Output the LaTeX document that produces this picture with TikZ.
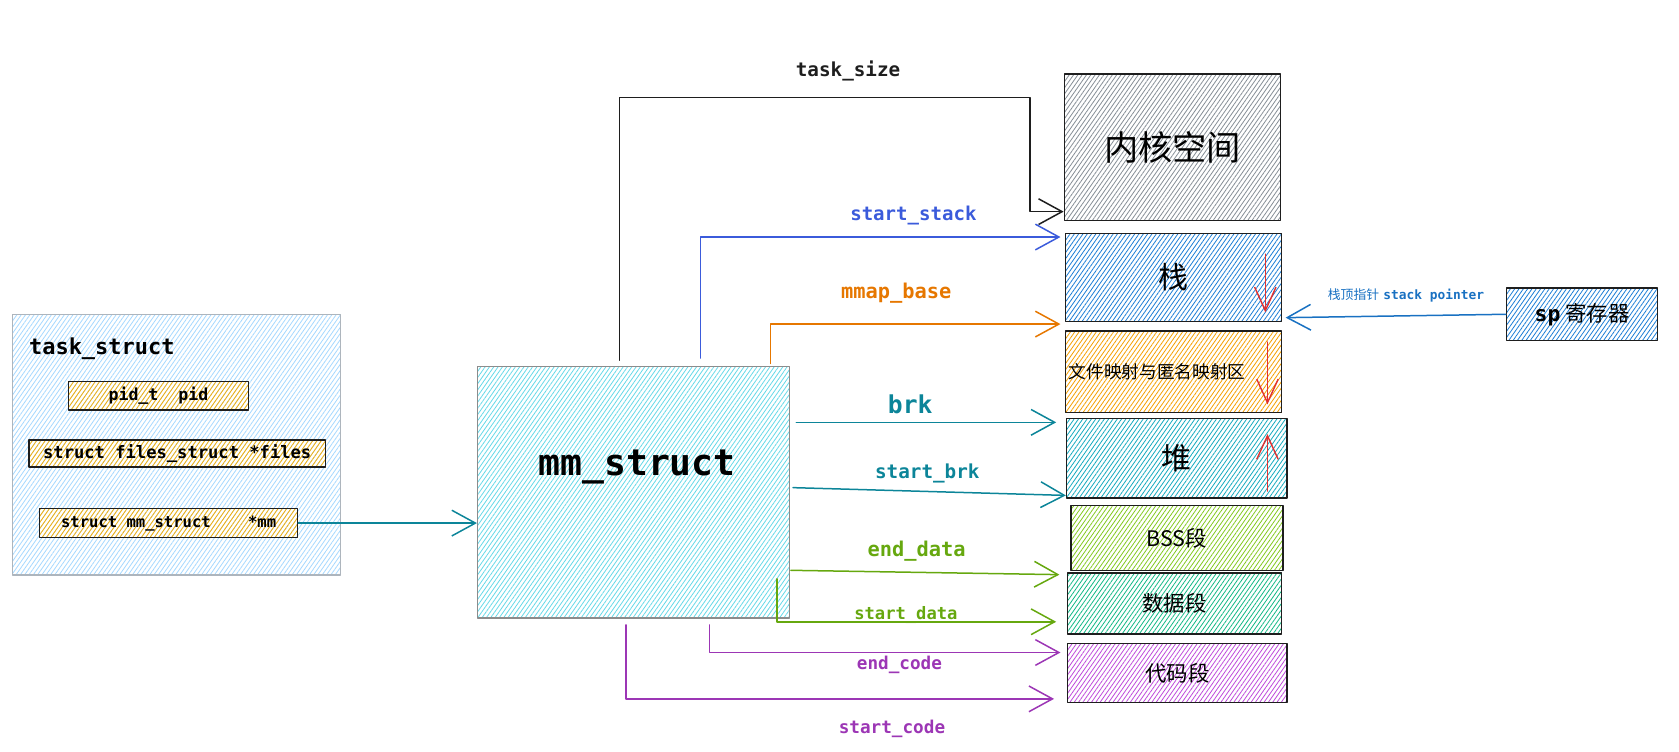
\documentclass[tikz,border=0pt]{standalone}
\usepackage{fontspec}
\setmonofont{DejaVu Sans Mono}
\newfontfamily\cjk{Noto Sans CJK SC}
\usetikzlibrary{arrows.meta,patterns.meta,calc}
\definecolor{cBlack}{HTML}{1E1E1E}
\definecolor{cBlue}{HTML}{3B5BDB}
\definecolor{cOrange}{HTML}{E67700}
\definecolor{cTeal}{HTML}{0C8599}
\definecolor{cGreen}{HTML}{66A80F}
\definecolor{cPurple}{HTML}{9C36B5}
\definecolor{cSp}{HTML}{1971C2}
\definecolor{cRed}{HTML}{E03131}
\definecolor{hTask}{HTML}{A5D8FF}
\definecolor{hYel}{HTML}{FAB005}
\definecolor{hMm}{HTML}{66D9E8}
\definecolor{hKern}{HTML}{868E96}
\definecolor{hStack}{HTML}{1C7ED6}
\definecolor{hMmap}{HTML}{F59F00}
\definecolor{hHeap}{HTML}{15AABF}
\definecolor{hBss}{HTML}{82C91E}
\definecolor{hData}{HTML}{12B886}
\definecolor{hCode}{HTML}{BE4BDB}
\definecolor{bGray}{HTML}{ADB5BD}
\begin{document}
\begin{tikzpicture}[x=1pt,y=-1pt,line join=round,line cap=round,
  hatch/.style={pattern={Lines[angle=55,distance=3.3pt,line width=0.75pt]},pattern color=#1},
  membox/.style={draw=cBlack,line width=1.3pt,hatch=#1,inner sep=0pt,font=\cjk\fontsize{20}{24}\selectfont},
  field/.style={draw=cBlack,line width=1.2pt,hatch=hYel,inner sep=0pt,font=\ttfamily\bfseries\fontsize{15.5}{18}\selectfont},
  conn/.style={line width=1.4pt,draw=#1,-{Straight Barb[length=22pt,width=24pt]}},
  redarr/.style={line width=1.3pt,draw=cRed,-{Straight Barb[length=22pt,width=20pt]}},
  lbl/.style={font=\ttfamily\bfseries\fontsize{18}{20}\selectfont,text=#1,inner sep=0pt},
]
\useasboundingbox (0,0) rectangle (1568,702);

% task_struct
\node[draw=bGray,line width=1.2pt,hatch=hTask,minimum width=306pt,minimum height=243pt,inner sep=0pt] (task) at (165,415.5) {};
\node[font=\ttfamily\bfseries\fontsize{20.5}{24}\selectfont,anchor=west,inner sep=0pt] (tasktitle) at (27,326) {task\_struct};
\node[field,minimum width=168pt,minimum height=27pt] (pid) at (148,369.5) {pid\_t\ \ pid};
\node[field,minimum width=277pt,minimum height=25pt,font=\ttfamily\bfseries\fontsize{16}{18}\selectfont] (files) at (165.5,423.5) {struct files\_struct *files};
\node[field,minimum width=241pt,minimum height=27pt,font=\ttfamily\bfseries\fontsize{14.5}{18}\selectfont] (mmf) at (157.5,488.5) {struct mm\_struct\ \ \ \ *mm};

% mm_struct
\node[draw=black!45,line width=1.2pt,hatch=hMm,minimum width=291pt,minimum height=235pt,inner sep=0pt] (mm) at (591.5,459.5) {};
\node[font=\ttfamily\bfseries\fontsize{34}{40}\selectfont,inner sep=0pt] (mmtitle) at (595,436) {mm\_struct};

% memory layout
\node[membox=hKern,minimum width=202pt,minimum height=137pt,font=\cjk\fontsize{32}{36}\selectfont] (kern) at (1095,137.5) {内核空间};
\node[membox=hStack,minimum width=202pt,minimum height=82pt,font=\cjk\fontsize{28}{32}\selectfont] (stack) at (1096,259) {栈};
\node[membox=hMmap,minimum width=202pt,minimum height=76pt,font=\cjk\fontsize{16.5}{20}\selectfont,text width=196pt,align=left] (mmap) at (1096,347) {文件映射与匿名映射区};
\node[membox=hHeap,minimum width=206pt,minimum height=74pt,font=\cjk\fontsize{28}{32}\selectfont] (heap) at (1099,428) {堆};
\node[membox=hBss,minimum width=198pt,minimum height=61pt] (bss) at (1099,502.5) {BSS段};
\node[membox=hData,minimum width=200pt,minimum height=57pt] (data) at (1097,563.5) {数据段};
\node[membox=hCode,minimum width=205pt,minimum height=55pt] (code) at (1099.5,628.5) {代码段};

% sp register
\node[membox=hStack,minimum width=141pt,minimum height=49pt] (sp) at (1477.5,293.5) {{\ttfamily\bfseries sp}\ 寄存器};

% growth arrows
\draw[redarr] ($(stack.north east)+(-16,20)$) -- ($(stack.south east)+(-16,-9)$);
\draw[redarr] ($(mmap.north east)+(-14,11)$) -- ($(mmap.south east)+(-14,-8)$);
\draw[redarr] ($(heap.south east)+(-19,-7)$) -- ($(heap.north east)+(-19,15)$);

% task_struct -> mm_struct
\draw[conn=cTeal] (mmf.east) -- (mm.west |- mmf.east);

% connectors from mm_struct
\coordinate (tsA) at ($(mm.north west)+(133,-5)$);
\coordinate (tsB) at (962,91);
\coordinate (tsT) at ($(kern.south west)+(0,-9)$);
\draw[conn=cBlack] (tsA) |- (tsB) |- (tsT);
\node[lbl=cBlack] (ltask) at (792,66) {task\_size};

\coordinate (ssA) at ($(mm.north west)+(209,-7)$);
\coordinate (ssT) at ($(stack.north west)+(-4,4)$);
\draw[conn=cBlue] (ssA) |- (ssT);
\node[lbl=cBlue,font=\ttfamily\bfseries\fontsize{17.8}{20}\selectfont] (lstack) at (853,201) {start\_stack};

\coordinate (mbA) at ($(mm.north west)+(274,-2)$);
\coordinate (mbT) at ($(stack.south west)+(-4,2)$);
\draw[conn=cOrange] (mbA) |- (mbT);
\node[lbl=cOrange,font=\ttfamily\bfseries\fontsize{19}{22}\selectfont] (lmmap) at (837,274) {mmap\_base};

\coordinate (brA) at ($(mm.north east)+(6,53)$);
\coordinate (brT) at ($(heap.north west)+(-9,4)$);
\draw[conn=cTeal] (brA) -- (brA -| brT);
\node[lbl=cTeal,font=\ttfamily\bfseries\fontsize{23}{26}\selectfont] (lbrk) at (850,378) {brk};

\coordinate (sbA) at ($(mm.north east)+(3,114)$);
\coordinate (sbT) at ($(heap.south west)+(0,-3)$);
\draw[conn=cTeal] (sbA) -- (sbT);
\node[lbl=cTeal] (lsbrk) at (866,442) {start\_brk};

\coordinate (edA) at ($(mm.south east)+(1,-45)$);
\coordinate (edT) at ($(bss.south west)+(-10,3)$);
\draw[conn=cGreen] (edA) -- (edT);
\node[lbl=cGreen,font=\ttfamily\bfseries\fontsize{19}{22}\selectfont] (ledata) at (856,515) {end\_data};

\coordinate (sdA) at ($(mm.south west)+(280,-37)$);
\coordinate (sdT) at ($(data.south west)+(-10,-12)$);
\draw[conn=cGreen] (sdA) |- (sdT);
\node[lbl=cGreen,font=\ttfamily\bfseries\fontsize{16}{20}\selectfont] (lsdata) at (846,574) {start\_data};

\coordinate (ecA) at ($(mm.south west)+(217,6)$);
\coordinate (ecT) at ($(code.north west)+(-6,9)$);
\draw[conn=cPurple] (ecA) |- (ecT);
\node[lbl=cPurple,font=\ttfamily\bfseries\fontsize{16.5}{20}\selectfont] (lecode) at (840,621) {end\_code};

\coordinate (scA) at ($(mm.south west)+(139,6)$);
\coordinate (scT) at ($(code.south west)+(-12,-4)$);
\draw[conn=cPurple] (scA) |- (scT);
\node[lbl=cPurple,font=\ttfamily\bfseries\fontsize{16.5}{20}\selectfont] (lscode) at (833,681) {start\_code};

% stack pointer
\coordinate (spT) at ($(stack.south east)+(3,-4)$);
\draw[conn=cSp] (sp.west) -- (spT);
\node[lbl=cSp,font=\fontsize{12}{14}\selectfont] (lsp) at (1313,276) {{\cjk 栈顶指针}\ {\ttfamily\bfseries stack pointer}};
\end{tikzpicture}
\end{document}
